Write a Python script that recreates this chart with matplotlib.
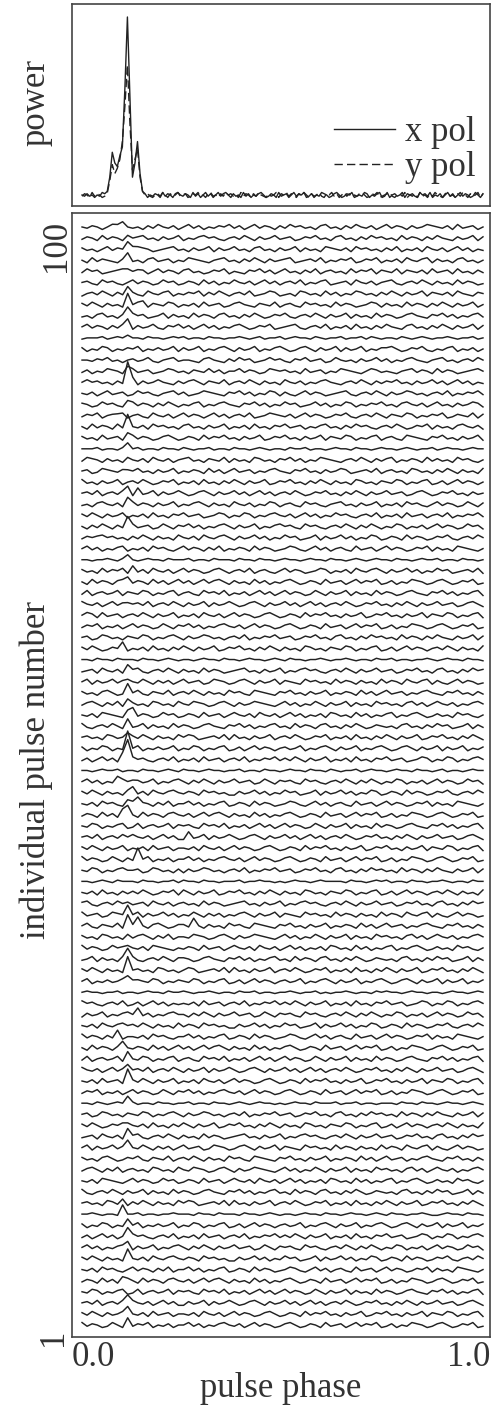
import numpy as np
import matplotlib
matplotlib.use("Agg")
import matplotlib.pyplot as plt

plt.rcParams['font.family'] = ['Liberation Serif', 'DejaVu Serif']
INK = '#222222'
TXT = '#333333'

# ---------------- data ----------------
# top panel: integrated profile, noise digits (0-4) + peak values at samples 10..24
xpol_noise = ("2131202143 2012031421 3021430213 2041320342 1320413024 1302413420 3120413021 3420132041 "
              "2302413240 1302143201 3420132401 2143021340 1402312403 2310423140 2130241302 4132014203")
ypol_noise = ("1320413201 2341203124 0213423102 3142031241 2301324120 3412031423 1204132031 4210312403 "
              "2413203142 0312410324 1302413021 3420132401 2341023140 2130412031 4210341203 1420312403")
xpol_peak = [2, 10, 24, 18, 16, 22, 27, 60, 100, 55, 10, 18, 30, 12, 2]
ypol_peak = [1, 8, 17, 12, 15, 20, 30, 50, 73, 40, 14, 20, 26, 10, 2]
peak_start = 10

# bottom panel: individual pulses, listed from top (pulse 100) to bottom (pulse 1)
pulse_noise = [
 "2132021432 1203142130 2413021324 1302413203 1423120341 2031421302 4132031243 2130412302",
 "1320413201 2341203124 0213423102 3142031241 2301324120 3412031423 1204132031 4210312403",
 "3120241320 1432012341 2031240312 4120341203 1240312043 2130423120 3140213042 1302413021",
 "2041321034 1203412302 1432102341 2031420312 3401231402 1324013240 2130421340 3120341202",
 "1423012340 2130241320 3412013240 2103241302 4120314023 1204132403 2140321304 1230412031",
 "2310423102 4132014230 1320413021 4213024130 2314021340 1230421302 3410231420 3120413201",
 "0231420312 3104213402 1324031420 2314012430 1204312041 3021431203 1420312403 2130421032",
 "3142031203 2410321430 2130412301 3421032140 2310423120 4132012430 3120413203 1420312402",
 "1203412031 4230124031 2041320341 2031420132 4102314203 1240312041 3201342103 2413021341",
 "2413203142 0312410324 1302413021 3420132401 2341023140 2130412031 4210341203 1420312403",
 "1222312321 2213221232 3122132212 2321231223 1232213212 2312231321 2213212321 2232122312",
 "3021430213 2402131240 3124021342 0312402134 2013420312 4031240213 3420132410 2134021302",
 "2213241202 3124102341 2210342103 1423012423 1032412301 4212031241 3021342102 3412023142",
 "1302143202 4123012431 2032141302 2413201432 3120412302 1432102431 2102341320 4132012342",
 "2423120314 2031242103 1342032140 2314203120 4213021342 1023142031 3241203124 1302413021",
 "2130241230 1423102341 3012432103 2413021430 3102413201 2341023142 0312431202 3140213241",
 "3201423102 4132031420 2134021342 1032413021 4230124130 2143021324 1203421302 4120312430",
 "1324023140 2310421302 4132024130 2314012432 1302413201 3241023142 0321430213 2401321403",
 "2041320413 2130423120 3412031240 2130412032 4123021341 2031423102 3142013240 3120342130",
 "3120412302 4132013420 1320413241 2031240132 4120312403 2143021340 2310432103 2412031240",
 "2223122132 2312213221 3212231221 3221232122 1322312212 3221322123 2212321223 1232212322",
 "1432031204 2130421302 3412032140 3120431203 2413021432 1023142031 3402132041 3120423102",
 "2301432103 2412031240 2132041302 4123021342 1032412031 2430123140 2312043120 3142031204",
 "4120312402 3142013240 2130412031 4203124013 2412031420 3120431203 2143021340 1302413202",
 "2314023142 0312403124 2013420312 4130241302 3142013241 2031420312 4123013420 1324120312",
 "1203421302 4132031240 2134203120 4213021430 2310423102 3412031240 2130423102 4132014203",
 "3142031240 2130412032 4123012430 2143021342 1302413021 4231023140 2130412302 3140213241",
 "2031420312 4123014203 2413021342 0312402134 2310423102 3142031420 2143021302 4132014230",
 "1320423120 3142031204 2130421342 0312413021 4230124031 2413021430 1320413201 3241023142",
 "2413021340 2130423102 4132031402 1320413201 2431024130 2310412302 4132013240 3120432102",
 "2212232132 2123221322 2312213222 1322132212 3221232213 2212321232 2132212322 3122132212",
 "3120413240 2130421302 4132013420 2314023102 4132012430 2130421342 0312413021 4230123140",
 "2041320342 1320413024 1302413420 3120413021 3420132041 2302413240 1302143201 3420132401",
 "1402312403 2143021340 2310423140 2130241302 4132014203 1240312041 3201342103 2413021340",
 "4213024130 2314023142 0312403124 2013420312 4130241302 3142013241 2031420312 4123013420",
 "2130412302 3142031240 2130421302 4132013420 1320413241 2031240132 4120312403 2143021340",
 "1324021302 4132014203 2413021342 1302413201 3420132041 2302413240 1302143201 3420132401",
 "2301431203 2143021342 0312431202 3140213241 2301324120 3412031423 1204132031 4210312403",
 "3142013240 2130412031 4203124013 2412031420 3120431203 2143021340 1302413202 3142031204",
 "2213221322 2132212321 2212322132 2123221232 1322122321 2232122132 2312212232 1232213221",
 "1230421302 3410231420 3120413201 2341203124 0213423102 3142031241 2301324120 3412031423",
 "2403124130 2142031302 4123014320 1342031240 3210423120 4132031204 1320421340 3102413201",
 "3120342013 2410321402 3142031204 2310432103 2412031240 2132041302 4123021342 1032412031",
 "1342031402 3120431204 2143201342 0312432102 4130214203 1240312042 3120341302 4213021342",
 "2130432102 4132014230 1320412302 4213042130 2413021304 3120413021 3402134201 3120423102",
 "4102314203 1240312041 3201342103 2413021341 2041320341 2031420132 1203412031 4230124031",
 "2312043120 3142031204 2430123140 4120312402 3142013240 2130412031 4203124013 2412031420",
 "3021430213 2402131240 2143021340 1302413202 3124021342 0312402134 2013420312 4031240213",
 "1302413021 4231023140 2130412302 3140213241 3142031240 2130412032 4123012430 2143021342",
 "2212322312 2132212321 3221232212 2312213221 2322132213 2122312322 1232213221 2312212322",
 "2413021342 0312402134 2031420312 4123014203 2310423102 3142031420 2143021302 4132014230",
 "3142031204 2130421342 1320423120 0312413021 4230124031 2413021430 1320413201 3241023142",
 "2130423102 4132031402 2413021340 1320413201 2431024130 2310412302 4132013240 3120432102",
 "1320413024 2041320342 1302413420 3120413021 3420132041 2302413240 1302143201 3420132401",
 "2143021340 1402312403 2310423140 2130241302 4132014203 1240312041 3201342103 2413021340",
 "2314023142 4213024130 0312403124 2013420312 4130241302 3142013241 2031420312 4123013420",
 "3142031240 2130412302 2130421302 4132013420 1320413241 2031240132 4120312403 2143021340",
 "4132014203 1324021302 2413021342 1302413201 3420132041 2302413240 1302143201 3420132401",
 "2143021342 2301431203 0312431202 3140213241 2301324120 3412031423 1204132031 4210312403",
 "2212321322 2132212231 3221322122 2312232212 1232212322 2213221232 3122132212 2321221322",
 "2130412031 3142013240 4203124013 2412031420 3120431203 2143021340 1302413202 3142031204",
 "3410231420 1230421302 3120413201 2341203124 0213423102 3142031241 2301324120 3412031423",
 "4123014320 2403124130 2142031302 1342031240 3210423120 4132031204 1320421340 3102413201",
 "2410321402 3120342013 3142031204 2310432103 2412031240 2132041302 4123021342 1032412031",
 "3120431204 1342031402 2143201342 0312432102 4130214203 1240312042 3120341302 4213021342",
 "4132014230 2130432102 1320412302 4213042130 2413021304 3120413021 3402134201 3120423102",
 "1240312041 4102314203 3201342103 2413021341 2041320341 2031420132 1203412031 4230124031",
 "3142031204 2312043120 2430123140 4120312402 3142013240 2130412031 4203124013 2412031420",
 "2402131240 3021430213 2143021340 1302413202 3124021342 0312402134 2013420312 4031240213",
 "2322122312 2123221322 3212232122 1322312212 2321223121 2232122132 3221232212 2123221232",
 "4231023140 1302413021 2130412302 3140213241 3142031240 2130412032 4123012430 2143021342",
 "0312402134 2413021342 2031420312 4123014203 2310423102 3142031420 2143021302 4132014230",
 "2130421342 3142031204 1320423120 0312413021 4230124031 2413021430 1320413201 3241023142",
 "4132031402 2130423102 2413021340 1320413201 2431024130 2310412302 4132013240 3120432102",
 "2041320342 1320413024 1302413420 3120413021 3420132041 2302413240 1302143201 3420132401",
 "1402312403 2143021340 2310423140 2130241302 4132014203 1240312041 3201342103 2413021340",
 "4213024130 2314023142 0312403124 2013420312 4130241302 3142013241 2031420312 4123013420",
 "2130412302 3142031240 2130421302 4132013420 1320413241 2031240132 4120312403 2143021340",
 "1324021302 4132014203 2413021342 1302413201 3420132041 2302413240 1302143201 3420132401",
 "2213212322 3122132212 2312213221 2321232212 1232213222 3122312212 2213221322 1232212321",
 "2301431203 2143021342 0312431202 3140213241 2301324120 3412031423 1204132031 4210312403",
 "3142013240 2130412031 4203124013 2412031420 3120431203 2143021340 1302413202 3142031204",
 "1230421302 3410231420 3120413201 2341203124 0213423102 3142031241 2301324120 3412031423",
 "2403124130 2142031302 4123014320 1342031240 3210423120 4132031204 1320421340 3102413201",
 "3120342013 2410321402 3142031204 2310432103 2412031240 2132041302 4123021342 1032412031",
 "1342031402 3120431204 2143201342 0312432102 4130214203 1240312042 3120341302 4213021342",
 "2130432102 4132014230 1320412302 4213042130 2413021304 3120413021 3402134201 3120423102",
 "4102314203 1240312041 3201342103 2413021341 2041320341 2031420132 1203412031 4230124031",
 "2312043120 3142031204 2430123140 4120312402 3142013240 2130412031 4203124013 2412031420",
 "2232122132 2312212232 2213221322 2132212321 2212322132 2123221232 1322122321 1232213221",
 "3021430213 2402131240 2143021340 1302413202 3124021342 0312402134 2013420312 4031240213",
 "1302413021 4231023140 2130412302 3140213241 3142031240 2130412032 4123012430 2143021342",
 "2413021342 0312402134 2031420312 4123014203 2310423102 3142031420 2143021302 4132014230",
 "3142031204 2130421342 1320423120 0312413021 4230124031 2413021430 1320413201 3241023142",
 "2130423102 4132031402 2413021340 1320413201 2431024130 2310412302 4132013240 3120432102",
 "1320413024 2041320342 1302413420 3120413021 3420132041 2302413240 1302143201 3420132401",
 "2143021340 1402312403 2310423140 2130241302 4132014203 1240312041 3201342103 2413021340",
 "2314023142 4213024130 0312403124 2013420312 4130241302 3142013241 2031420312 4123013420",
 "3142031240 2130412302 2130421302 4132013420 1320413241 2031240132 4120312403 2143021340",
 "4132014203 1324021302 2413021342 1302413201 3420132041 2302413240 1302143201 3420132401",
]

# pulse emission spikes: pulse number, sample index, height (px above the noise)
peak_pulse = [100, 100, 99, 98, 98, 97, 96, 96, 94, 93, 93, 92, 91, 90, 87, 86, 86, 84, 83, 82,
              81, 80, 78, 76, 76, 75, 73, 72, 70, 69, 68, 66, 65, 62, 60, 59, 58, 57, 56, 56,
              55, 54, 53, 52, 52, 50, 50, 49, 48, 48, 47, 47, 45, 43, 39, 38, 37, 37, 37, 35,
              34, 33, 32, 32, 29, 27, 26, 25, 24, 23, 21, 19, 18, 17, 12, 11, 10, 9, 8, 7,
              5, 3, 2, 1]
peak_index = [8, 6, 9, 9, 10, 9, 9, 11, 9, 9, 12, 9, 9, 9, 9, 9, 10, 9, 7, 9,
              9, 9, 8, 9, 11, 9, 9, 3, 9, 10, 9, 9, 1, 8, 9, 9, 9, 9, 9, 10,
              9, 9, 9, 9, 8, 7, 10, 10, 11, 9, 8, 9, 21, 11, 9, 9, 9, 11, 22, 9,
              9, 9, 9, 11, 11, 7, 8, 9, 9, 9, 9, 9, 9, 9, 8, 8, 9, 9, 9, 9,
              8, 9, 9, 9]
peak_height = [4, 4, 4, 10, 4, 5, 5, 3, 7, 10, 5, 10, 8, 4, 5, 18, 5, 4, 3, 11,
               5, 6, 4, 7, 4, 7, 10, 4, 5, 5, 5, 4, 4, 4, 6, 5, 8, 5, 5, 5,
               6, 7, 16, 21, 7, 4, 4, 6, 8, 4, 6, 7, 4, 10, 4, 12, 11, 10, 5, 5,
               12, 11, 8, 4, 4, 4, 4, 6, 8, 12, 7, 5, 8, 10, 4, 8, 5, 10, 6, 7,
               4, 8, 10, 6]

ROW_PX = 11.09          # row spacing in pixels (one pulse number)
NOISE_PX = 1.25         # pixels per noise digit step


def decode(s):
    return np.array([int(c) for c in s.replace(' ', '')], dtype=float)


# ---------------- figure ----------------
W, H = 493, 1406
fig = plt.figure(figsize=(W / 100, H / 100), dpi=100)
ax1 = fig.add_axes([72 / W, 1 - 206 / H, 418 / W, 202 / H])
ax2 = fig.add_axes([72 / W, 1 - 1337 / H, 418 / W, 1124 / H])

for ax in (ax1, ax2):
    for sp in ax.spines.values():
        sp.set_color('#444444')
        sp.set_linewidth(1.2)
    ax.set_xticks([])
    ax.set_yticks([])
    ax.set_xlim(-0.025, 1.0175)

# top panel
xp = (decode(xpol_noise) - 2) * 0.7
yp = (decode(ypol_noise) - 2) * 0.7
xp[peak_start:peak_start + len(xpol_peak)] = xpol_peak
yp[peak_start:peak_start + len(ypol_peak)] = ypol_peak
ph_top = np.linspace(0, 1, len(xp))
ax1.plot(ph_top, xp, color=INK, lw=1.0, label='x pol')
ax1.plot(ph_top, yp, color=INK, lw=1.0, ls=(0, (6, 3)), label='y pol')
ax1.set_ylim(-6.2, 107.3)
leg = ax1.legend(loc='lower right', bbox_to_anchor=(0.966, 0.11), frameon=False,
                 fontsize=25, handlelength=1.75, handletextpad=0.3,
                 labelspacing=0.05, borderaxespad=0, borderpad=0)
for t in leg.get_texts():
    t.set_color(TXT)

# bottom panel
offsets_px = np.array([(decode(s) - 2) * NOISE_PX for s in pulse_noise])
for p, i, h in zip(peak_pulse, peak_index, peak_height):
    offsets_px[100 - p, i] += h
ph = np.linspace(0, 1, offsets_px.shape[1])
for r in range(len(pulse_noise)):
    pulse = 100 - r
    ax2.plot(ph, pulse + offsets_px[r] / ROW_PX, color=INK, lw=1.05)
ax2.set_ylim(-0.08, 101.26)

# texts
ax2.text(0.0, -0.004, '0.0', transform=ax2.transAxes, ha='left', va='top', fontsize=25, color=TXT)
ax2.text(1.0, -0.004, '1.0', transform=ax2.transAxes, ha='right', va='top', fontsize=25, color=TXT)
ax2.text(-0.038, 0.994, '100', transform=ax2.transAxes, rotation=90, ha='center', va='top',
         fontsize=25, color=TXT)
ax2.text(-0.045, 0.0, '1', transform=ax2.transAxes, rotation=90, ha='center', va='center',
         fontsize=25, color=TXT)
fig.text(281 / W, 1 - 1372 / H, 'pulse phase', ha='center', va='top', fontsize=25, color=TXT)
fig.text(36 / W, 1 - 770 / H, 'individual pulse number', rotation=90, ha='center', va='center',
         fontsize=25, color=TXT)
fig.text(36 / W, 1 - 102 / H, 'power', rotation=90, ha='center', va='center',
         fontsize=25, color=TXT)

fig.savefig('out.png', dpi=100)
